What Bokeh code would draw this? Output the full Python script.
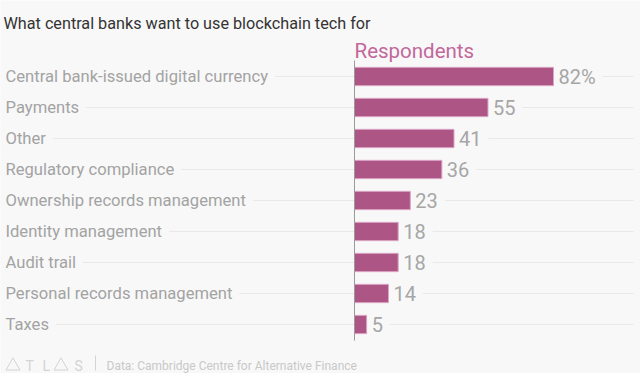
from bokeh.plotting import figure
from bokeh.models import Range1d
from bokeh.core.properties import value
from bokeh.embed import file_html
from bokeh.resources import INLINE

# ---- data ----
categories = [
    "Central bank-issued digital currency",
    "Payments",
    "Other",
    "Regulatory compliance",
    "Ownership records management",
    "Identity management",
    "Audit trail",
    "Personal records management",
    "Taxes",
]
values = [82, 55, 41, 36, 23, 18, 18, 14, 5]
value_labels = ["82%", "55", "41", "36", "23", "18", "18", "14", "5"]
title_text = "What central banks want to use blockchain tech for"
series_name = "Respondents"
source_text = "Data: Cambridge Centre for Alternative Finance"
logo_letters = ["T", "L", "S"]

# ---- layout ----
W, H = 640, 373
SCALE = 2.427      # px per value unit
ZERO_X = 354       # px of value 0 from figure left
ROW = 31           # px per row
ROW0 = 76          # px of first row centre from figure top
BG = "#f8f8f8"
FONT = value("Roboto")
LOGO = "#d4d4d4"


def X(px):
    return (px - ZERO_X) / SCALE


def Y(py):
    return (py - ROW0) / ROW


n = len(categories)
rows = list(range(n))

p = figure(
    width=W, height=H, title=None,
    x_range=Range1d(-ZERO_X / SCALE, (W - ZERO_X) / SCALE),
    y_range=Range1d((H - ROW0) / ROW, -ROW0 / ROW),
    output_backend="svg", toolbar_location=None,
    x_axis_location=None, y_axis_location=None,
    min_border=0, outline_line_color=None,
    background_fill_color=BG, border_fill_color=BG,
)
p.grid.visible = False

# gridlines
p.segment(x0=[X(0)] * n, y0=rows, x1=[X(633)] * n, y1=rows,
          line_color="#e9e9e9", line_width=1)

# category labels (left padding puts the text 5px in from the edge)
p.text(x=[X(0)] * n, y=rows, text=categories, text_font=FONT,
       text_font_size="16.6px", text_color="#a3a3a3", text_baseline="middle",
       background_fill_color=BG,
       padding=dict(left=5, right=7, top=0, bottom=0))

# value labels (left padding = gap after bar end)
p.text(x=values, y=rows, text=value_labels, text_font=FONT,
       text_font_size="20px", text_color="#a6a6a6", text_baseline="middle",
       background_fill_color=BG,
       padding=dict(left=5, right=7, top=0, bottom=0))

# bars
p.hbar(y=rows, left=0, right=values, height=0.59,
       fill_color="#ad5686", line_color="#dba6c4", line_width=1)

# axis line
p.segment(x0=[0], y0=[Y(60)], x1=[0], y1=[Y(340)], line_color="#9a9a9a", line_width=1)

# title
p.text(x=[X(3)], y=[Y(23.3)], text=[title_text], text_font=FONT,
       text_font_size="16.2px", text_color="#333333", text_baseline="alphabetic")

# series header
p.text(x=[0], y=[Y(50.7)], text=[series_name], text_font=FONT,
       text_font_size="20.5px", text_color="#c2689c", text_baseline="alphabetic")

# footer: logo (two outline triangles + letters), separator, source
p.scatter(x=[X(12.5), X(60.5)], y=[Y(365.5)] * 2, marker="triangle", size=14,
          fill_color=None, line_color=LOGO, line_width=1)
p.text(x=[X(25), X(42), X(74)], y=[Y(365.5)] * 3, text=logo_letters, text_font=FONT,
       text_font_size="14px", text_color=LOGO, text_baseline="alphabetic")
p.segment(x0=[X(95)], y0=[Y(355)], x1=[X(95)], y1=[Y(370)], line_color=LOGO, line_width=1)
p.text(x=[X(106)], y=[Y(365.5)], text=[source_text], text_font=FONT,
       text_font_size="12px", text_color="#c8c8c8", text_baseline="alphabetic")

open("out.html", "w").write(file_html(p, INLINE))
